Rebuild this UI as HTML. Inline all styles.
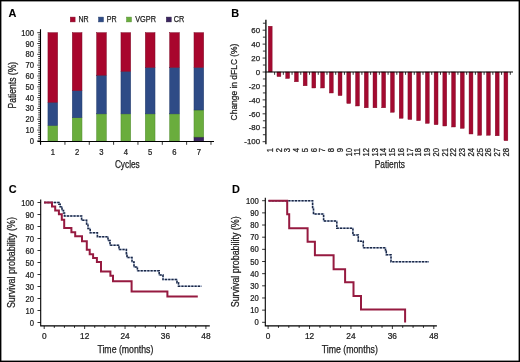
<!DOCTYPE html>
<html><head><meta charset="utf-8"><style>
html,body{margin:0;padding:0;background:#fff;}
svg{display:block;font-family:"Liberation Sans", sans-serif;will-change:transform;}
text{fill:#222;stroke:#222;stroke-width:0.25px;}
text.b{fill:#000;stroke:#000;stroke-width:0.1px;}
</style></head><body>
<svg width="520" height="362" viewBox="0 0 520 362">
<rect x="0" y="0" width="520" height="362" fill="#fff"/>
<text x="8.5" y="17.1" font-size="10.9" font-weight="bold" class="b">A</text>
<rect x="70.3" y="17.1" width="4.8" height="4.8" fill="#a8062d" stroke="#7f0a26" stroke-width="0.5"/>
<text transform="translate(78.4,22.1)" font-size="8.8" textLength="10.2" lengthAdjust="spacingAndGlyphs">NR</text>
<rect x="98.6" y="17.1" width="4.8" height="4.8" fill="#2e4b86" stroke="#223a6a" stroke-width="0.5"/>
<text transform="translate(106.7,22.1)" font-size="8.8" textLength="9.9" lengthAdjust="spacingAndGlyphs">PR</text>
<rect x="126.6" y="17.1" width="4.8" height="4.8" fill="#6aad3d" stroke="#4f8a2c" stroke-width="0.5"/>
<text transform="translate(135.2,22.1)" font-size="8.8" textLength="20.8" lengthAdjust="spacingAndGlyphs">VGPR</text>
<rect x="166.4" y="17.1" width="4.8" height="4.8" fill="#3a2460" stroke="#24143e" stroke-width="0.5"/>
<text transform="translate(173.8,22.1)" font-size="8.8" textLength="10.5" lengthAdjust="spacingAndGlyphs">CR</text>
<rect x="47.95" y="125.44" width="9.7" height="15.46" fill="#6aad3d" stroke="#4f8a2c" stroke-width="0.5"/>
<rect x="47.95" y="102.26" width="9.7" height="23.19" fill="#2e4b86" stroke="#223a6a" stroke-width="0.5"/>
<rect x="47.95" y="32.7" width="9.7" height="69.56" fill="#a8062d" stroke="#7f0a26" stroke-width="0.5"/>
<text transform="translate(52.8,154.7) scale(0.9,1)" font-size="8.5" text-anchor="middle">1</text>
<rect x="72.29" y="117.71" width="9.7" height="23.19" fill="#6aad3d" stroke="#4f8a2c" stroke-width="0.5"/>
<rect x="72.29" y="90.66" width="9.7" height="27.05" fill="#2e4b86" stroke="#223a6a" stroke-width="0.5"/>
<rect x="72.29" y="32.7" width="9.7" height="57.96" fill="#a8062d" stroke="#7f0a26" stroke-width="0.5"/>
<text transform="translate(77.14,154.7) scale(0.9,1)" font-size="8.5" text-anchor="middle">2</text>
<rect x="96.63" y="113.85" width="9.7" height="27.05" fill="#6aad3d" stroke="#4f8a2c" stroke-width="0.5"/>
<rect x="96.63" y="75.21" width="9.7" height="38.64" fill="#2e4b86" stroke="#223a6a" stroke-width="0.5"/>
<rect x="96.63" y="32.7" width="9.7" height="42.51" fill="#a8062d" stroke="#7f0a26" stroke-width="0.5"/>
<text transform="translate(101.48,154.7) scale(0.9,1)" font-size="8.5" text-anchor="middle">3</text>
<rect x="120.97" y="113.85" width="9.7" height="27.05" fill="#6aad3d" stroke="#4f8a2c" stroke-width="0.5"/>
<rect x="120.97" y="71.34" width="9.7" height="42.51" fill="#2e4b86" stroke="#223a6a" stroke-width="0.5"/>
<rect x="120.97" y="32.7" width="9.7" height="38.64" fill="#a8062d" stroke="#7f0a26" stroke-width="0.5"/>
<text transform="translate(125.82,154.7) scale(0.9,1)" font-size="8.5" text-anchor="middle">4</text>
<rect x="145.31" y="113.85" width="9.7" height="27.05" fill="#6aad3d" stroke="#4f8a2c" stroke-width="0.5"/>
<rect x="145.31" y="67.48" width="9.7" height="46.37" fill="#2e4b86" stroke="#223a6a" stroke-width="0.5"/>
<rect x="145.31" y="32.7" width="9.7" height="34.78" fill="#a8062d" stroke="#7f0a26" stroke-width="0.5"/>
<text transform="translate(150.16,154.7) scale(0.9,1)" font-size="8.5" text-anchor="middle">5</text>
<rect x="169.65" y="113.85" width="9.7" height="27.05" fill="#6aad3d" stroke="#4f8a2c" stroke-width="0.5"/>
<rect x="169.65" y="67.48" width="9.7" height="46.37" fill="#2e4b86" stroke="#223a6a" stroke-width="0.5"/>
<rect x="169.65" y="32.7" width="9.7" height="34.78" fill="#a8062d" stroke="#7f0a26" stroke-width="0.5"/>
<text transform="translate(174.5,154.7) scale(0.9,1)" font-size="8.5" text-anchor="middle">6</text>
<rect x="193.99" y="137.04" width="9.7" height="3.86" fill="#3a2460" stroke="#24143e" stroke-width="0.5"/>
<rect x="193.99" y="109.99" width="9.7" height="27.05" fill="#6aad3d" stroke="#4f8a2c" stroke-width="0.5"/>
<rect x="193.99" y="67.48" width="9.7" height="42.51" fill="#2e4b86" stroke="#223a6a" stroke-width="0.5"/>
<rect x="193.99" y="32.7" width="9.7" height="34.78" fill="#a8062d" stroke="#7f0a26" stroke-width="0.5"/>
<text transform="translate(198.84,154.7) scale(0.9,1)" font-size="8.5" text-anchor="middle">7</text>
<path d="M40.5,29.3V144.5M37.5,141.5H214" stroke="#000" stroke-width="1.1" fill="none"/>
<path d="M37.3,140.9H40.5M38.2,138.74H40.5M38.2,136.57H40.5M38.2,134.41H40.5M38.2,132.24H40.5M37.3,130.08H40.5M38.2,127.92H40.5M38.2,125.75H40.5M38.2,123.59H40.5M38.2,121.42H40.5M37.3,119.26H40.5M38.2,117.1H40.5M38.2,114.93H40.5M38.2,112.77H40.5M38.2,110.6H40.5M37.3,108.44H40.5M38.2,106.28H40.5M38.2,104.11H40.5M38.2,101.95H40.5M38.2,99.78H40.5M37.3,97.62H40.5M38.2,95.46H40.5M38.2,93.29H40.5M38.2,91.13H40.5M38.2,88.96H40.5M37.3,86.8H40.5M38.2,84.64H40.5M38.2,82.47H40.5M38.2,80.31H40.5M38.2,78.14H40.5M37.3,75.98H40.5M38.2,73.82H40.5M38.2,71.65H40.5M38.2,69.49H40.5M38.2,67.32H40.5M37.3,65.16H40.5M38.2,63H40.5M38.2,60.83H40.5M38.2,58.67H40.5M38.2,56.5H40.5M37.3,54.34H40.5M38.2,52.18H40.5M38.2,50.01H40.5M38.2,47.85H40.5M38.2,45.68H40.5M37.3,43.52H40.5M38.2,41.36H40.5M38.2,39.19H40.5M38.2,37.03H40.5M38.2,34.86H40.5M37.3,32.7H40.5M40.6,141.5V144.8M64.94,141.5V144.8M89.28,141.5V144.8M113.62,141.5V144.8M137.96,141.5V144.8M162.3,141.5V144.8M186.64,141.5V144.8M210.98,141.5V144.8" stroke="#000" stroke-width="0.8" fill="none"/>
<text transform="translate(34.1,143.9) scale(0.9,1)" font-size="8.5" text-anchor="end">0</text>
<text transform="translate(34.1,133.08) scale(0.9,1)" font-size="8.5" text-anchor="end">10</text>
<text transform="translate(34.1,122.26) scale(0.9,1)" font-size="8.5" text-anchor="end">20</text>
<text transform="translate(34.1,111.44) scale(0.9,1)" font-size="8.5" text-anchor="end">30</text>
<text transform="translate(34.1,100.62) scale(0.9,1)" font-size="8.5" text-anchor="end">40</text>
<text transform="translate(34.1,89.8) scale(0.9,1)" font-size="8.5" text-anchor="end">50</text>
<text transform="translate(34.1,78.98) scale(0.9,1)" font-size="8.5" text-anchor="end">60</text>
<text transform="translate(34.1,68.16) scale(0.9,1)" font-size="8.5" text-anchor="end">70</text>
<text transform="translate(34.1,57.34) scale(0.9,1)" font-size="8.5" text-anchor="end">80</text>
<text transform="translate(34.1,46.52) scale(0.9,1)" font-size="8.5" text-anchor="end">90</text>
<text transform="translate(34.1,35.7) scale(0.9,1)" font-size="8.5" text-anchor="end">100</text>
<text transform="translate(127.3,168)" font-size="10" text-anchor="middle" textLength="24.8" lengthAdjust="spacingAndGlyphs">Cycles</text>
<text transform="translate(15.7,85.2) rotate(-90)" font-size="10" text-anchor="middle" textLength="46.6" lengthAdjust="spacingAndGlyphs">Patients (%)</text>
<text x="231.2" y="17" font-size="10.9" font-weight="bold" class="b">B</text>
<rect x="268.25" y="26.2" width="3.9" height="45.8" fill="#a30a30" stroke="#7f0a26" stroke-width="0.4"/>
<text transform="translate(273,147.9) rotate(-90) scale(0.9,1)" font-size="8.5" text-anchor="end">1</text>
<rect x="276.98" y="72" width="3.9" height="4.6" fill="#a30a30" stroke="#7f0a26" stroke-width="0.4"/>
<text transform="translate(281.73,147.9) rotate(-90) scale(0.9,1)" font-size="8.5" text-anchor="end">2</text>
<rect x="285.71" y="72" width="3.9" height="6.5" fill="#a30a30" stroke="#7f0a26" stroke-width="0.4"/>
<text transform="translate(290.46,147.9) rotate(-90) scale(0.9,1)" font-size="8.5" text-anchor="end">3</text>
<rect x="294.44" y="72" width="3.9" height="9.8" fill="#a30a30" stroke="#7f0a26" stroke-width="0.4"/>
<text transform="translate(299.19,147.9) rotate(-90) scale(0.9,1)" font-size="8.5" text-anchor="end">4</text>
<rect x="303.17" y="72" width="3.9" height="13.8" fill="#a30a30" stroke="#7f0a26" stroke-width="0.4"/>
<text transform="translate(307.92,147.9) rotate(-90) scale(0.9,1)" font-size="8.5" text-anchor="end">5</text>
<rect x="311.9" y="72" width="3.9" height="16" fill="#a30a30" stroke="#7f0a26" stroke-width="0.4"/>
<text transform="translate(316.65,147.9) rotate(-90) scale(0.9,1)" font-size="8.5" text-anchor="end">6</text>
<rect x="320.63" y="72" width="3.9" height="16" fill="#a30a30" stroke="#7f0a26" stroke-width="0.4"/>
<text transform="translate(325.38,147.9) rotate(-90) scale(0.9,1)" font-size="8.5" text-anchor="end">7</text>
<rect x="329.36" y="72" width="3.9" height="21" fill="#a30a30" stroke="#7f0a26" stroke-width="0.4"/>
<text transform="translate(334.11,147.9) rotate(-90) scale(0.9,1)" font-size="8.5" text-anchor="end">8</text>
<rect x="338.09" y="72" width="3.9" height="23.6" fill="#a30a30" stroke="#7f0a26" stroke-width="0.4"/>
<text transform="translate(342.84,147.9) rotate(-90) scale(0.9,1)" font-size="8.5" text-anchor="end">9</text>
<rect x="346.82" y="72" width="3.9" height="31.5" fill="#a30a30" stroke="#7f0a26" stroke-width="0.4"/>
<text transform="translate(351.57,147.9) rotate(-90) scale(0.9,1)" font-size="8.5" text-anchor="end">10</text>
<rect x="355.55" y="72" width="3.9" height="34" fill="#a30a30" stroke="#7f0a26" stroke-width="0.4"/>
<text transform="translate(360.3,147.9) rotate(-90) scale(0.9,1)" font-size="8.5" text-anchor="end">11</text>
<rect x="364.28" y="72" width="3.9" height="35.8" fill="#a30a30" stroke="#7f0a26" stroke-width="0.4"/>
<text transform="translate(369.03,147.9) rotate(-90) scale(0.9,1)" font-size="8.5" text-anchor="end">12</text>
<rect x="373.01" y="72" width="3.9" height="35.8" fill="#a30a30" stroke="#7f0a26" stroke-width="0.4"/>
<text transform="translate(377.76,147.9) rotate(-90) scale(0.9,1)" font-size="8.5" text-anchor="end">13</text>
<rect x="381.74" y="72" width="3.9" height="35.8" fill="#a30a30" stroke="#7f0a26" stroke-width="0.4"/>
<text transform="translate(386.49,147.9) rotate(-90) scale(0.9,1)" font-size="8.5" text-anchor="end">14</text>
<rect x="390.47" y="72" width="3.9" height="40.3" fill="#a30a30" stroke="#7f0a26" stroke-width="0.4"/>
<text transform="translate(395.22,147.9) rotate(-90) scale(0.9,1)" font-size="8.5" text-anchor="end">15</text>
<rect x="399.2" y="72" width="3.9" height="46.3" fill="#a30a30" stroke="#7f0a26" stroke-width="0.4"/>
<text transform="translate(403.95,147.9) rotate(-90) scale(0.9,1)" font-size="8.5" text-anchor="end">16</text>
<rect x="407.93" y="72" width="3.9" height="47.5" fill="#a30a30" stroke="#7f0a26" stroke-width="0.4"/>
<text transform="translate(412.68,147.9) rotate(-90) scale(0.9,1)" font-size="8.5" text-anchor="end">17</text>
<rect x="416.66" y="72" width="3.9" height="48.7" fill="#a30a30" stroke="#7f0a26" stroke-width="0.4"/>
<text transform="translate(421.41,147.9) rotate(-90) scale(0.9,1)" font-size="8.5" text-anchor="end">18</text>
<rect x="425.39" y="72" width="3.9" height="51.4" fill="#a30a30" stroke="#7f0a26" stroke-width="0.4"/>
<text transform="translate(430.14,147.9) rotate(-90) scale(0.9,1)" font-size="8.5" text-anchor="end">19</text>
<rect x="434.12" y="72" width="3.9" height="52.7" fill="#a30a30" stroke="#7f0a26" stroke-width="0.4"/>
<text transform="translate(438.87,147.9) rotate(-90) scale(0.9,1)" font-size="8.5" text-anchor="end">20</text>
<rect x="442.85" y="72" width="3.9" height="54" fill="#a30a30" stroke="#7f0a26" stroke-width="0.4"/>
<text transform="translate(447.6,147.9) rotate(-90) scale(0.9,1)" font-size="8.5" text-anchor="end">21</text>
<rect x="451.58" y="72" width="3.9" height="55" fill="#a30a30" stroke="#7f0a26" stroke-width="0.4"/>
<text transform="translate(456.33,147.9) rotate(-90) scale(0.9,1)" font-size="8.5" text-anchor="end">22</text>
<rect x="460.31" y="72" width="3.9" height="56.4" fill="#a30a30" stroke="#7f0a26" stroke-width="0.4"/>
<text transform="translate(465.06,147.9) rotate(-90) scale(0.9,1)" font-size="8.5" text-anchor="end">23</text>
<rect x="469.04" y="72" width="3.9" height="62" fill="#a30a30" stroke="#7f0a26" stroke-width="0.4"/>
<text transform="translate(473.79,147.9) rotate(-90) scale(0.9,1)" font-size="8.5" text-anchor="end">24</text>
<rect x="477.77" y="72" width="3.9" height="63.3" fill="#a30a30" stroke="#7f0a26" stroke-width="0.4"/>
<text transform="translate(482.52,147.9) rotate(-90) scale(0.9,1)" font-size="8.5" text-anchor="end">25</text>
<rect x="486.5" y="72" width="3.9" height="63.3" fill="#a30a30" stroke="#7f0a26" stroke-width="0.4"/>
<text transform="translate(491.25,147.9) rotate(-90) scale(0.9,1)" font-size="8.5" text-anchor="end">26</text>
<rect x="495.23" y="72" width="3.9" height="63.8" fill="#a30a30" stroke="#7f0a26" stroke-width="0.4"/>
<text transform="translate(499.98,147.9) rotate(-90) scale(0.9,1)" font-size="8.5" text-anchor="end">27</text>
<rect x="503.96" y="72" width="3.9" height="68.7" fill="#a30a30" stroke="#7f0a26" stroke-width="0.4"/>
<text transform="translate(508.71,147.9) rotate(-90) scale(0.9,1)" font-size="8.5" text-anchor="end">28</text>
<path d="M265.9,19.8V144.2" stroke="#000" stroke-width="1.3" fill="none"/><path d="M265.5,72H513" stroke="#000" stroke-width="1.1" fill="none"/>
<path d="M262.6,141.7H265.5M262.9,134.73H265.5M262.6,127.76H265.5M262.9,120.79H265.5M262.6,113.82H265.5M262.9,106.85H265.5M262.6,99.88H265.5M262.9,92.91H265.5M262.6,85.94H265.5M262.9,78.97H265.5M262.6,72H265.5M262.9,65.03H265.5M262.6,58.06H265.5M262.9,51.09H265.5M262.6,44.12H265.5M262.9,37.15H265.5M262.6,30.18H265.5M262.9,23.21H265.5M274.6,72V74.8M283.33,72V74.8M292.06,72V74.8M300.79,72V74.8M309.52,72V74.8M318.25,72V74.8M326.98,72V74.8M335.71,72V74.8M344.44,72V74.8M353.17,72V74.8M361.9,72V74.8M370.63,72V74.8M379.36,72V74.8M388.09,72V74.8M396.82,72V74.8M405.55,72V74.8M414.28,72V74.8M423.01,72V74.8M431.74,72V74.8M440.47,72V74.8M449.2,72V74.8M457.93,72V74.8M466.66,72V74.8M475.39,72V74.8M484.12,72V74.8M492.85,72V74.8M501.58,72V74.8M510.31,72V74.8" stroke="#000" stroke-width="0.8" fill="none"/>
<text transform="translate(260.1,144.4)" font-size="7.9" text-anchor="end">-100</text>
<text transform="translate(260.1,130.46)" font-size="7.9" text-anchor="end">-80</text>
<text transform="translate(260.1,116.52)" font-size="7.9" text-anchor="end">-60</text>
<text transform="translate(260.1,102.58)" font-size="7.9" text-anchor="end">-40</text>
<text transform="translate(260.1,88.64)" font-size="7.9" text-anchor="end">-20</text>
<text transform="translate(260.1,74.7)" font-size="7.9" text-anchor="end">0</text>
<text transform="translate(260.1,60.76)" font-size="7.9" text-anchor="end">20</text>
<text transform="translate(260.1,46.82)" font-size="7.9" text-anchor="end">40</text>
<text transform="translate(260.1,32.88)" font-size="7.9" text-anchor="end">60</text>
<text transform="translate(389.8,168.2)" font-size="10" text-anchor="middle" textLength="30.2" lengthAdjust="spacingAndGlyphs">Patients</text>
<text transform="translate(237.4,82) rotate(-90)" font-size="9.2" text-anchor="middle" textLength="76.8" lengthAdjust="spacingAndGlyphs">Change in dFLC (%)</text>
<text x="8.8" y="193.3" font-size="10.9" font-weight="bold" class="b">C</text>
<path d="M40.7,199.4V326.3M40.2,325.9H209.8" stroke="#000" stroke-width="1.1" fill="none"/>
<path d="M37.5,322.5H40.7M37.5,310.5H40.7M37.5,298.5H40.7M37.5,286.5H40.7M37.5,274.5H40.7M37.5,262.5H40.7M37.5,250.5H40.7M37.5,238.5H40.7M37.5,226.5H40.7M37.5,214.5H40.7M37.5,202.5H40.7M44.2,325.9V329M54.31,325.9V327.9M64.41,325.9V327.9M74.52,325.9V327.9M84.63,325.9V329M94.74,325.9V327.9M104.84,325.9V327.9M114.95,325.9V327.9M125.06,325.9V329M135.16,325.9V327.9M145.27,325.9V327.9M155.38,325.9V327.9M165.48,325.9V329M175.59,325.9V327.9M185.7,325.9V327.9M195.81,325.9V327.9M205.91,325.9V329" stroke="#000" stroke-width="0.8" fill="none"/>
<text transform="translate(34.1,325.5) scale(0.9,1)" font-size="8.5" text-anchor="end">0</text>
<text transform="translate(34.1,313.5) scale(0.9,1)" font-size="8.5" text-anchor="end">10</text>
<text transform="translate(34.1,301.5) scale(0.9,1)" font-size="8.5" text-anchor="end">20</text>
<text transform="translate(34.1,289.5) scale(0.9,1)" font-size="8.5" text-anchor="end">30</text>
<text transform="translate(34.1,277.5) scale(0.9,1)" font-size="8.5" text-anchor="end">40</text>
<text transform="translate(34.1,265.5) scale(0.9,1)" font-size="8.5" text-anchor="end">50</text>
<text transform="translate(34.1,253.5) scale(0.9,1)" font-size="8.5" text-anchor="end">60</text>
<text transform="translate(34.1,241.5) scale(0.9,1)" font-size="8.5" text-anchor="end">70</text>
<text transform="translate(34.1,229.5) scale(0.9,1)" font-size="8.5" text-anchor="end">80</text>
<text transform="translate(34.1,217.5) scale(0.9,1)" font-size="8.5" text-anchor="end">90</text>
<text transform="translate(34.1,205.5) scale(0.9,1)" font-size="8.5" text-anchor="end">100</text>
<text transform="translate(44.2,339.1) scale(0.98,1)" font-size="8.5" text-anchor="middle">0</text>
<text transform="translate(84.63,339.1) scale(0.98,1)" font-size="8.5" text-anchor="middle">12</text>
<text transform="translate(125.06,339.1) scale(0.98,1)" font-size="8.5" text-anchor="middle">24</text>
<text transform="translate(165.48,339.1) scale(0.98,1)" font-size="8.5" text-anchor="middle">36</text>
<text transform="translate(205.91,339.1) scale(0.98,1)" font-size="8.5" text-anchor="middle">48</text>
<text transform="translate(125.4,352.8)" font-size="10" text-anchor="middle" textLength="56" lengthAdjust="spacingAndGlyphs">Time (months)</text>
<text transform="translate(15.3,262.6) rotate(-90)" font-size="10" text-anchor="middle" textLength="91" lengthAdjust="spacingAndGlyphs">Survival probability (%)</text>
<path d="M44,202.5H58.9V204.3H60.2V206.7H62V210.4H63.5V213H64.5V215.9H81.6V220.3H86.6V224H88V228.4H90.2V232.8H97.4V236.8H108V240.6H110V245.2H119V249.4H126.4V253.8H127V257.6H132V262H134V266.9H137.4V270.8H159.2V275H163V279.6H177V282.7H178.5V286.2H201.5" stroke="#a9b8d2" stroke-width="1.5" fill="none"/>
<path d="M44,202.5H58.9V204.3H60.2V206.7H62V210.4H63.5V213H64.5V215.9H81.6V220.3H86.6V224H88V228.4H90.2V232.8H97.4V236.8H108V240.6H110V245.2H119V249.4H126.4V253.8H127V257.6H132V262H134V266.9H137.4V270.8H159.2V275H163V279.6H177V282.7H178.5V286.2H201.5" stroke="#1b2744" stroke-width="1.5" fill="none" stroke-dasharray="2.1 1.2"/>
<path d="M44,202.5H52V206.6H55.2V210.4H58.9V214.2H61.8V219.8H64.2V227.9H71.4V232.2H75.2V236.3H82V241.3H86.8V249.8H89.7V254.3H93.1V257.9H96.9V262H101V271.6H110.4V275.8H113V281.2H131.6V291.6H167.4V296.6H197.8" stroke="#961a40" stroke-width="2" fill="none"/>
<text x="232" y="193.3" font-size="10.9" font-weight="bold" class="b">D</text>
<path d="M265.3,197.7V326.3M264.8,325.9H436.9" stroke="#000" stroke-width="1.1" fill="none"/>
<path d="M262.1,322.3H265.3M262.1,310.14H265.3M262.1,297.98H265.3M262.1,285.82H265.3M262.1,273.66H265.3M262.1,261.5H265.3M262.1,249.34H265.3M262.1,237.18H265.3M262.1,225.02H265.3M262.1,212.86H265.3M262.1,200.7H265.3M268.1,325.9V329M278.46,325.9V327.9M288.81,325.9V327.9M299.17,325.9V327.9M309.52,325.9V329M319.88,325.9V327.9M330.24,325.9V327.9M340.59,325.9V327.9M350.95,325.9V329M361.3,325.9V327.9M371.66,325.9V327.9M382.02,325.9V327.9M392.37,325.9V329M402.73,325.9V327.9M413.08,325.9V327.9M423.44,325.9V327.9M433.8,325.9V329" stroke="#000" stroke-width="0.8" fill="none"/>
<text transform="translate(258.8,325.3) scale(0.9,1)" font-size="8.5" text-anchor="end">0</text>
<text transform="translate(258.8,313.14) scale(0.9,1)" font-size="8.5" text-anchor="end">10</text>
<text transform="translate(258.8,300.98) scale(0.9,1)" font-size="8.5" text-anchor="end">20</text>
<text transform="translate(258.8,288.82) scale(0.9,1)" font-size="8.5" text-anchor="end">30</text>
<text transform="translate(258.8,276.66) scale(0.9,1)" font-size="8.5" text-anchor="end">40</text>
<text transform="translate(258.8,264.5) scale(0.9,1)" font-size="8.5" text-anchor="end">50</text>
<text transform="translate(258.8,252.34) scale(0.9,1)" font-size="8.5" text-anchor="end">60</text>
<text transform="translate(258.8,240.18) scale(0.9,1)" font-size="8.5" text-anchor="end">70</text>
<text transform="translate(258.8,228.02) scale(0.9,1)" font-size="8.5" text-anchor="end">80</text>
<text transform="translate(258.8,215.86) scale(0.9,1)" font-size="8.5" text-anchor="end">90</text>
<text transform="translate(258.8,203.7) scale(0.9,1)" font-size="8.5" text-anchor="end">100</text>
<text transform="translate(268.1,339) scale(0.98,1)" font-size="8.5" text-anchor="middle">0</text>
<text transform="translate(309.52,339) scale(0.98,1)" font-size="8.5" text-anchor="middle">12</text>
<text transform="translate(350.95,339) scale(0.98,1)" font-size="8.5" text-anchor="middle">24</text>
<text transform="translate(392.37,339) scale(0.98,1)" font-size="8.5" text-anchor="middle">36</text>
<text transform="translate(433.8,339) scale(0.98,1)" font-size="8.5" text-anchor="middle">48</text>
<text transform="translate(349.8,352.8)" font-size="10" text-anchor="middle" textLength="56" lengthAdjust="spacingAndGlyphs">Time (months)</text>
<text transform="translate(239,261.8) rotate(-90)" font-size="10" text-anchor="middle" textLength="91" lengthAdjust="spacingAndGlyphs">Survival probability (%)</text>
<path d="M268.5,200.7H312.6V207.6H313.5V214H323.6V221.1H336.8V228.2H352.9V235H358.3V241.3H363.3V247.8H385.5V251.3H386.3V254.7H391V261.7H429" stroke="#a9b8d2" stroke-width="1.5" fill="none"/>
<path d="M268.5,200.7H312.6V207.6H313.5V214H323.6V221.1H336.8V228.2H352.9V235H358.3V241.3H363.3V247.8H385.5V251.3H386.3V254.7H391V261.7H429" stroke="#1b2744" stroke-width="1.5" fill="none" stroke-dasharray="2.1 1.2"/>
<path d="M268.5,200.7H287.2V214.2H289.2V228.2H307.6V241.8H314.9V255.3H333.6V269.3H345.1V282.2H353.5V295.9H361V309.6H405.1V322.6" stroke="#961a40" stroke-width="2" fill="none"/>
<rect x="0.7" y="0.7" width="518.6" height="360.6" fill="none" stroke="#000" stroke-width="1.4"/>
</svg>
</body></html>
